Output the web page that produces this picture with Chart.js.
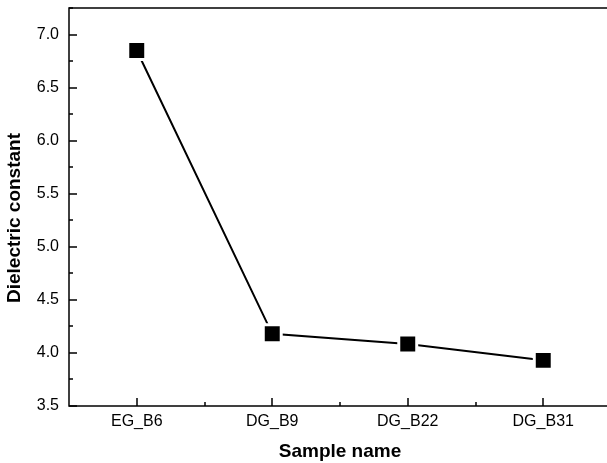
<!DOCTYPE html>
<html>
<head>
<meta charset="utf-8">
<script src="https://cdn.jsdelivr.net/npm/chart.js@4/dist/chart.umd.min.js"></script>
<style>
  html, body { margin: 0; padding: 0; overflow: hidden; background: #fff; }
  #wrap { width: 612px; height: 463px; }
</style>
</head>
<body>
<div id="wrap"><canvas id="chart"></canvas></div>
<script>
const samples = ["EG_B6", "DG_B9", "DG_B22", "DG_B31"];
const dielectric = [6.85, 4.18, 4.085, 3.93];
const yMin = 3.5;
const yMax = 7.25;
const yStep = 0.5;
const xTitle = "Sample name";
const yTitle = "Dielectric constant";

const FONT = "'Liberation Sans', Arial, sans-serif";

// box, inward ticks and axis titles
const frame = {
  id: "frame",
  afterDraw(chart) {
    const { ctx, chartArea: a } = chart;
    const xs = chart.scales.x;
    const ys = chart.scales.y;
    ctx.save();
    ctx.strokeStyle = "#000";
    ctx.lineWidth = 1.5;
    ctx.strokeRect(a.left, a.top, a.right - a.left, a.bottom - a.top);

    ctx.beginPath();
    for (let v = yMin; v <= yMax + 1e-9; v += yStep / 2) {
      const py = Math.round(ys.getPixelForValue(v));
      const major = Math.abs(v / yStep - Math.round(v / yStep)) < 1e-6;
      ctx.moveTo(a.left, py);
      ctx.lineTo(a.left + (major ? 8 : 4), py);
    }
    for (let i = 0; i < samples.length; i++) {
      const px = Math.round(xs.getPixelForValue(i));
      ctx.moveTo(px, a.bottom);
      ctx.lineTo(px, a.bottom - 8);
      if (i < samples.length - 1) {
        const mx = Math.round((xs.getPixelForValue(i) + xs.getPixelForValue(i + 1)) / 2);
        ctx.moveTo(mx, a.bottom);
        ctx.lineTo(mx, a.bottom - 4);
      }
    }
    ctx.stroke();

    ctx.fillStyle = "#000";
    ctx.font = "bold 19px " + FONT;
    ctx.textAlign = "center";
    ctx.textBaseline = "middle";
    ctx.fillText(xTitle, (a.left + a.right) / 2, a.bottom + 46);
    ctx.translate(15, (a.top + a.bottom) / 2 + 11);
    ctx.rotate(-Math.PI / 2);
    ctx.fillText(yTitle, 0, 0);
    ctx.restore();
  }
};

new Chart(document.getElementById("chart"), {
  type: "line",
  data: {
    labels: samples,
    datasets: [{
      data: dielectric,
      borderColor: "#000",
      borderWidth: 2,
      tension: 0,
      pointStyle: "rect",
      pointRadius: 12.7,
      pointBackgroundColor: "#000",
      pointBorderColor: "#fff",
      pointBorderWidth: 3
    }]
  },
  options: {
    responsive: true,
    maintainAspectRatio: false,
    animation: false,
    events: [],
    layout: { autoPadding: false, padding: { top: 8, right: 1, left: 0, bottom: 0 } },
    plugins: { legend: { display: false }, tooltip: { enabled: false } },
    scales: {
      x: {
        type: "category",
        offset: true,
        grid: { display: false, drawTicks: false },
        border: { display: false },
        ticks: { color: "#000", font: { family: FONT, size: 16 }, padding: 6, maxRotation: 0 },
        afterFit(s) { s.height = 57; s.paddingLeft = 0; s.paddingRight = 0; }
      },
      y: {
        min: yMin,
        max: yMax,
        grid: { display: false, drawTicks: false },
        border: { display: false },
        ticks: {
          stepSize: yStep,
          includeBounds: false,
          color: "#000",
          font: { family: FONT, size: 16 },
          padding: 10,
          callback: v => Number(v).toFixed(1)
        },
        afterFit(s) { s.width = 69; s.paddingTop = 0; s.paddingBottom = 0; }
      }
    }
  },
  plugins: [frame]
});
</script>
</body>
</html>
